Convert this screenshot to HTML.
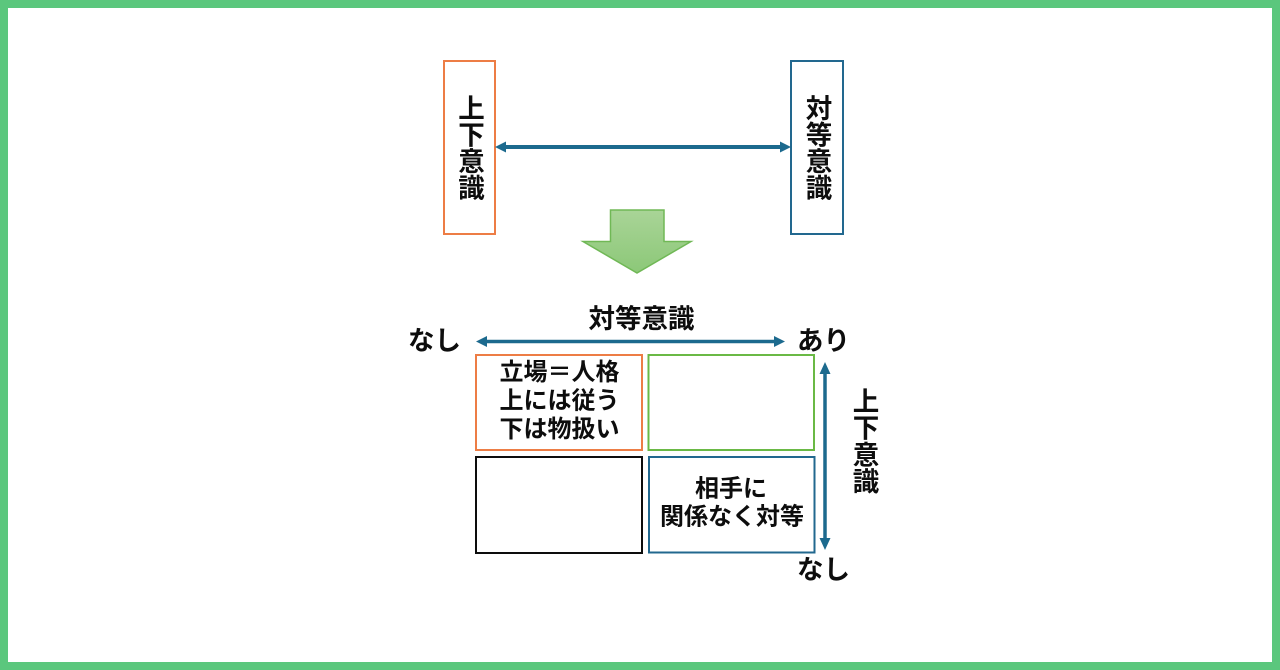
<!DOCTYPE html>
<html lang="ja"><head><meta charset="utf-8"><style>
html,body{margin:0;padding:0;background:#fff}
svg{display:block}
text{font-family:"Liberation Sans","Noto Sans CJK JP",sans-serif;font-weight:700;fill:#0a0a0a;text-anchor:middle}
.a{font-size:26.5px}.b{font-size:24px}
</style></head><body>
<svg width="1280" height="670" viewBox="0 0 1280 670" xmlns="http://www.w3.org/2000/svg">
<defs>
<linearGradient id="g" x1="0" y1="0" x2="0" y2="1"><stop offset="0" stop-color="#a9d497"/><stop offset="1" stop-color="#8cc878"/></linearGradient>
<filter id="s" filterUnits="userSpaceOnUse" x="0" y="0" width="1280" height="670"><feGaussianBlur stdDeviation="0.35"/></filter>
</defs>
<rect x="4" y="4" width="1272" height="662" fill="#fff" stroke="#5bc77d" stroke-width="8"/>
<g filter="url(#s)">
<rect x="444" y="61" width="51" height="173" fill="#fff" stroke="#ed7d45" stroke-width="2"/>
<rect x="791" y="61" width="52" height="173" fill="#fff" stroke="#21688f" stroke-width="2"/>
<text class="a" x="471.500" y="118">上</text><text class="a" x="471.500" y="144.500">下</text><text class="a" x="471.500" y="171">意</text><text class="a" x="471.500" y="197.500">識</text>
<text class="a" x="819" y="118">対</text><text class="a" x="819" y="144.500">等</text><text class="a" x="819" y="171">意</text><text class="a" x="819" y="197.500">識</text>
<path d="M505 147H781" stroke="#1f6a8e" stroke-width="4"/>
<path d="M495 147L506 141.500V152.500Z M791 147L780 141.500V152.500Z" fill="#1f6a8e"/>
<path d="M610.500 210H664V241.500H691L637 273L583 241.500H610.500Z" fill="url(#g)" stroke="#70b856" stroke-width="1.500"/>
<text class="a" x="641.500" y="328">対等意識</text>
<path d="M485 341.500H775" stroke="#1f6a8e" stroke-width="3.500"/>
<path d="M476 341.500L487 336V347Z M785 341.500L774 336V347Z" fill="#1f6a8e"/>
<text class="a" x="434.500" y="350">なし</text>
<text class="a" x="823.500" y="350">あり</text>
<rect x="476" y="355" width="166" height="95" fill="#fff" stroke="#ed7d45" stroke-width="2"/>
<rect x="648.500" y="355" width="165.500" height="95" fill="#fff" stroke="#6bb945" stroke-width="2"/>
<rect x="476" y="457" width="166" height="96" fill="#fff" stroke="#111" stroke-width="2"/>
<rect x="649" y="457" width="165.500" height="95.500" fill="#fff" stroke="#21688f" stroke-width="2"/>
<text class="b" x="559.500" y="380">立場＝人格</text>
<text class="b" x="559.500" y="408.500">上には従う</text>
<text class="b" x="559.500" y="437">下は物扱い</text>
<text class="b" x="731" y="496.500">相手に</text>
<text class="b" x="732" y="524.500">関係なく対等</text>
<path d="M825 372V542" stroke="#1f6a8e" stroke-width="3.500"/>
<path d="M825 362L819.500 374H830.500Z M825 550L819.500 538H830.500Z" fill="#1f6a8e"/>
<text class="a" x="866" y="411">上</text><text class="a" x="866" y="437.500">下</text><text class="a" x="866" y="464.500">意</text><text class="a" x="866" y="491">識</text>
<text class="a" x="823.500" y="579">なし</text>
</g>
</svg>
</body></html>
